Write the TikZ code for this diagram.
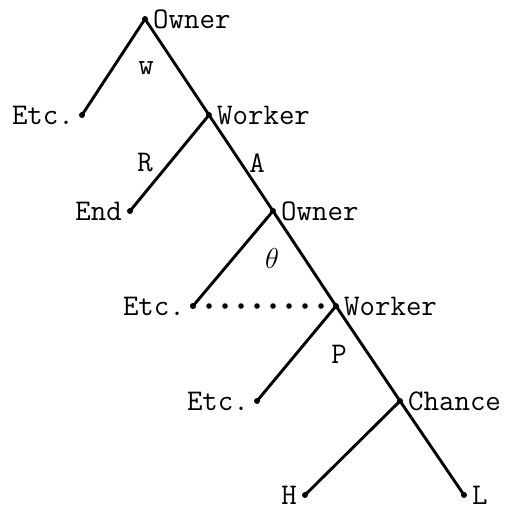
\documentclass[tikz,border=0pt]{standalone}
\usetikzlibrary{positioning}
\tikzstyle{move} = [circle, fill=black, inner sep=0pt, minimum size=3pt]
\tikzstyle{branch} = [line width=1.45pt]
\tikzstyle{infoset} = [line width=2.8pt, line cap=round, dash pattern=on 0pt off 8pt]
\tikzstyle{choice} = [inner sep=0pt, font=\fontsize{15}{17}\ttfamily]

\begin{document}
\begin{tikzpicture}[x=0.5pt, y=-0.5pt, label distance=1.2pt]
\tikzstyle{every label}=[inner sep=1pt, font=\fontsize{15}{17}\ttfamily]
\useasboundingbox (0,0) rectangle (507,508);
% decision points
\node (owner_a) [move, label=right:Owner] at (145,19) {};
\node (etc_a) [move, label=left:Etc.] at (82,115) {};
\node (worker_a) [move, label=right:Worker] at (209,115) {};
\node (end) [move, label=left:End] at (130,211) {};
\node (owner_b) [move, label=right:Owner] at (273,211) {};
\node (etc_b) [move, label=left:Etc.] at (193,306) {};
\node (worker_b) [move, label=right:Worker] at (336,306) {};
\node (etc_c) [move, label=left:Etc.] at (257,401) {};
\node (chance) [move, label=right:Chance] at (400,401) {};
\node (high) [move, label=left:H] at (305,495) {};
\node (low) [move, label=right:L] at (464,495) {};

% branch names
\node (lab_w) [choice] at (146,68) {w};
\node (lab_r) [choice] at (145,163) {R};
\node (lab_a) [choice] at (257,163) {A};
\node (lab_theta) [choice] at (272,258) {$\theta$};
\node (lab_p) [choice] at (339,354) {P};

\draw[branch] (owner_a.center) -- (etc_a.center);
\draw[branch] (owner_a.center) -- (worker_a.center);
\draw[branch] (worker_a.center) -- (end.center);
\draw[branch] (worker_a.center) -- (owner_b.center);
\draw[branch] (owner_b.center) -- (etc_b.center);
\draw[branch] (owner_b.center) -- (worker_b.center);
\draw[branch] (worker_b.center) -- (etc_c.center);
\draw[branch] (worker_b.center) -- (chance.center);
\draw[branch] (chance.center) -- (high.center);
\draw[branch] (chance.center) -- (low.center);

\draw[infoset] (etc_b.center) -- (worker_b.center);
\end{tikzpicture}
\end{document}
